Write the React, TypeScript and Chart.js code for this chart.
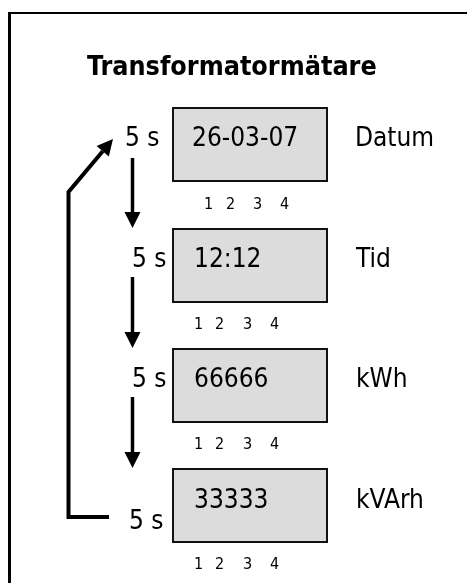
import React, { useEffect, useRef } from "react";
import { Chart, registerables } from "chart.js";

Chart.register(...registerables);

// ---- content ----
const titleText = "Transformatormätare";
const displayValues = ["26-03-07", "12:12", "66666", "33333"];
const quantityLabels = ["Datum", "Tid", "kWh", "kVArh"];
const intervalLabels = ["5 s", "5 s", "5 s", "5 s"];
const digitLabels = ["1", "2", "3", "4"];

// ---- layout (in scale units = page pixels) ----
const W = 467;
const H = 583;
const FONT = '"DejaVu Sans Condensed", "DejaVu Sans", sans-serif';
const BOX_X0 = 173;
const BOX_X1 = 327;
const BOX_H = 73;
const rowTop = [108, 229, 349, 469];
const textBase = [146, 267, 387, 508];
const textX = [192, 194, 194, 194];
const intervalX = [125, 132, 132, 129];
const intervalBase = [146, 267, 387, 529];
const labelX = [355, 356, 356, 356];
const digitX = [
  [204, 226, 253, 280],
  [194, 215, 243, 270],
  [194, 215, 243, 270],
  [194, 215, 243, 270],
];
const digitBase = [209, 329, 449, 569];
const downArrows = [
  [158, 228],
  [277, 348],
  [397, 468],
];
const ARROW_X = 132.5;
const returnPath = [
  [109, 517],
  [68.5, 517],
  [68.5, 192],
  [113, 139],
];

const diagramPlugin = {
  id: "diagram",
  afterDraw(chart: any) {
    const { ctx } = chart;
    const xs = chart.scales.x;
    const ys = chart.scales.y;
    const px = (v: number) => xs.getPixelForValue(v);
    const py = (v: number) => ys.getPixelForValue(v);
    ctx.save();

    // frame
    ctx.strokeStyle = "#000";
    ctx.lineWidth = 2;
    ctx.beginPath();
    ctx.moveTo(px(9), py(13));
    ctx.lineTo(px(W + 5), py(13));
    ctx.stroke();
    ctx.lineWidth = 3;
    ctx.beginPath();
    ctx.moveTo(px(9.5), py(12));
    ctx.lineTo(px(9.5), py(H + 5));
    ctx.stroke();

    // title
    ctx.fillStyle = "#000";
    ctx.textBaseline = "alphabetic";
    ctx.textAlign = "left";
    ctx.font = `bold 26.7px ${FONT}`;
    ctx.fillText(titleText, px(87), py(75));

    // boxes and texts
    displayValues.forEach((val, i) => {
      const x0 = px(BOX_X0);
      const x1 = px(BOX_X1);
      const y0 = py(rowTop[i]);
      const y1 = py(rowTop[i] + BOX_H);
      ctx.fillStyle = "#dcdcdc";
      ctx.fillRect(x0, y0, x1 - x0, y1 - y0);
      ctx.strokeStyle = "#111";
      ctx.lineWidth = 2;
      ctx.strokeRect(x0, y0, x1 - x0, y1 - y0);

      ctx.fillStyle = "#000";
      ctx.font = `26px ${FONT}`;
      ctx.fillText(val, px(textX[i]), py(textBase[i]));
      ctx.fillText(quantityLabels[i], px(labelX[i]), py(textBase[i]));
      ctx.fillText(intervalLabels[i], px(intervalX[i]), py(intervalBase[i]));

      ctx.font = `16px ${FONT}`;
      digitLabels.forEach((d, j) => {
        ctx.fillText(d, px(digitX[i][j]), py(digitBase[i]));
      });
    });

    const arrowHead = (fx: number, fy: number, tx: number, ty: number) => {
      const ang = Math.atan2(ty - fy, tx - fx);
      const len = 16;
      const half = 8;
      const bx = tx - len * Math.cos(ang);
      const by = ty - len * Math.sin(ang);
      ctx.beginPath();
      ctx.moveTo(tx, ty);
      ctx.lineTo(bx + half * Math.sin(ang), by - half * Math.cos(ang));
      ctx.lineTo(bx - half * Math.sin(ang), by + half * Math.cos(ang));
      ctx.closePath();
      ctx.fill();
      return [bx, by];
    };

    // down arrows
    ctx.strokeStyle = "#000";
    ctx.fillStyle = "#000";
    ctx.lineWidth = 3.5;
    ctx.lineCap = "butt";
    downArrows.forEach(([a, b]) => {
      const x = px(ARROW_X);
      const [, by] = arrowHead(x, py(a), x, py(b));
      ctx.beginPath();
      ctx.moveTo(x, py(a));
      ctx.lineTo(x, by + 1);
      ctx.stroke();
    });

    // return path
    const pts = returnPath.map(([x, y]) => [px(x), py(y)]);
    const n = pts.length;
    const [bx, by] = arrowHead(pts[n - 2][0], pts[n - 2][1], pts[n - 1][0], pts[n - 1][1]);
    ctx.lineJoin = "miter";
    ctx.lineWidth = 4;
    ctx.beginPath();
    ctx.moveTo(pts[0][0], pts[0][1]);
    for (let k = 1; k < n - 1; k++) ctx.lineTo(pts[k][0], pts[k][1]);
    ctx.lineTo(bx, by);
    ctx.stroke();

    ctx.restore();
  },
};

export default function App() {
  const ref = useRef<HTMLCanvasElement | null>(null);
  useEffect(() => {
    document.body.style.margin = "0";
    const canvas = ref.current;
    if (!canvas) return;
    const chart = new Chart(canvas, {
      type: "scatter",
      data: { datasets: [{ data: [], pointRadius: 0 }] },
      options: {
        animation: false,
        responsive: false,
        maintainAspectRatio: false,
        devicePixelRatio: 1,
        layout: { padding: 0 },
        events: [],
        plugins: { legend: { display: false }, tooltip: { enabled: false } },
        scales: {
          x: { type: "linear", min: 0, max: W, display: false },
          y: { type: "linear", min: 0, max: H, reverse: true, display: false },
        },
      },
      plugins: [diagramPlugin],
    });
    return () => chart.destroy();
  }, []);
  return (
    <div style={{ width: W, height: H, background: "#fff" }}>
      <canvas ref={ref} width={W} height={H} style={{ display: "block" }} />
    </div>
  );
}
